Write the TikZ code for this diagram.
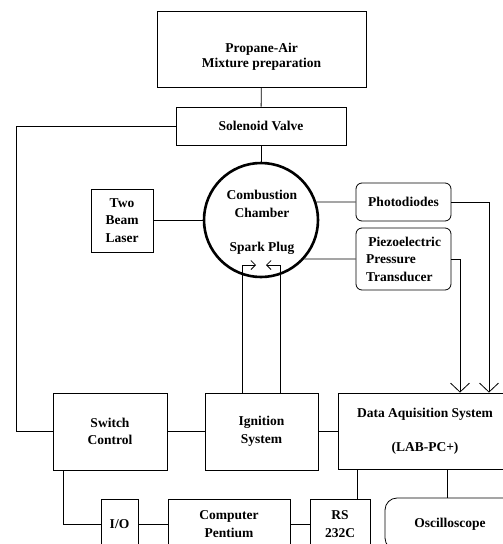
\documentclass[tikz,border=0pt]{standalone}
\usepackage{fontspec}
\setmainfont{Liberation Serif}
\usetikzlibrary{arrows.meta}
\begin{document}
\begin{tikzpicture}[x=1pt,y=-1pt,
  txt/.style={inner sep=0pt, align=center, font=\bfseries\fontsize{13.5}{17.5}\selectfont},
  box/.style={txt, draw, line width=0.8pt},
  rbox/.style={box, rounded corners=6pt},
  wire/.style={line width=0.8pt},
  bigarrow/.style={wire, -{Straight Barb[length=9pt,width=19pt,line width=0.8pt]}},
  smallarrow/.style={wire, -{Straight Barb[length=4.5pt,width=9pt,line width=0.8pt]}}]
\useasboundingbox (0,0) rectangle (503,544);
\clip (0,0) rectangle (503,544);
% nodes
\node[box, minimum width=209, minimum height=76] (prop) at (261.5,49) {};
\node[txt, font=\bfseries\fontsize{13.5}{15}\selectfont] (proptext) at (261.5,57) {Propane-Air\\Mixture preparation};
\node[box, minimum width=170, minimum height=38] (sol) at (261,126) {Solenoid Valve};
\node[circle, draw, line width=2.6pt, minimum size=114, inner sep=0pt] (cc) at (261,220) {};
\node[txt] (cctext) at (262,204) {Combustion\\Chamber};
\node[txt] (sptext) at (262,248) {Spark Plug};
\node[box, minimum width=62, minimum height=63] (laser) at (122,220.5) {Two\\Beam\\Laser};
\node[rbox, minimum width=95, minimum height=38] (photo) at (403.5,202) {Photodiodes};
\node[rbox, minimum width=95, minimum height=62, align=left] (piezo) at (403.5,259) {\,Piezoelectric\\Pressure\\Transducer};
\node[box, minimum width=114, minimum height=77] (sw) at (110,431.5) {Switch\\Control};
\node[box, minimum width=113, minimum height=77] (ign) at (261.5,431.5) {Ignition\\System};
\node[box, minimum width=174, minimum height=76] (daq) at (425,431) {Data Aquisition System\\[17pt](LAB-PC+)};
\node[box, minimum width=37, minimum height=50] (io) at (119.5,524) {I/O};
\node[box, minimum width=122, minimum height=50] (comp) at (229,524) {Computer\\Pentium};
\node[box, minimum width=60, minimum height=50] (rs) at (340,524) {RS\\232C};
\node[box, rounded corners=12pt, minimum width=130, minimum height=52] (osc) at (450,524) {Oscilloscope};
% helper coordinates
\coordinate (lx) at (16,0);
\coordinate (ax1) at (460,0);
\coordinate (ax2) at (489,0);
\coordinate (spl) at (242,265);
\coordinate (spr) at (280,265);
\coordinate (bx) at (63,0);
\coordinate (rx) at (357,0);
\coordinate (ox) at (447,0);
% connectors
\draw[wire] (prop) -- (sol);
\draw[wire] (sol.west) -- (sol.west -| lx) |- (sw.west);
\draw[wire] (sol) -- (cc);
\draw[wire] (laser.east) -- (laser.east -| cc.west);
\draw[wire] (cc.18) -- (photo.west);
\draw[wire] (cc.-42) -- (piezo.west);
\draw[bigarrow] (photo.east) -- (photo.east -| ax2) -- (ax2 |- daq.north);
\draw[bigarrow] (piezo.east) -- (piezo.east -| ax1) -- (ax1 |- daq.north);
\draw[smallarrow] (spl |- ign.north) -- (spl) -- ++(14,0);
\draw[smallarrow] (spr |- ign.north) -- (spr) -- ++(-14,0);
\draw[wire] (sw.east) -- (ign.west);
\draw[wire] (ign.east) -- (ign.east -| daq.west);
\draw[wire] (sw.south -| bx) |- (io.west);
\draw[wire] (io) -- (comp);
\draw[wire] (comp) -- (rs);
\draw[wire] (daq.south -| rx) -- (rs.north -| rx);
\draw[wire] (daq.south -| ox) -- (osc.north -| ox);
\end{tikzpicture}
\end{document}
